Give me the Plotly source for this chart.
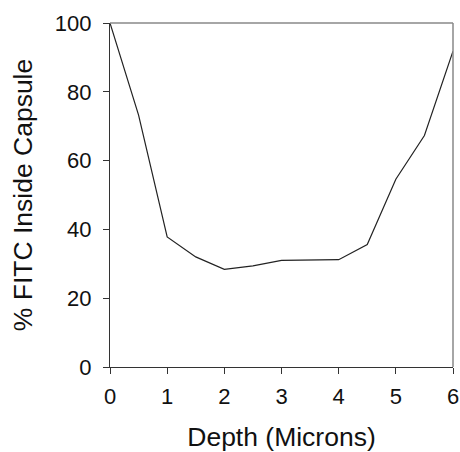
import plotly.graph_objects as go

depth = [0, 0.5, 1, 1.5, 2, 2.5, 3, 3.5, 4, 4.5, 5, 5.5, 6]
fitc_inside = [100, 73.2, 37.8, 32.0, 28.4, 29.4, 31.0, 31.0, 31.2, 35.6, 54.6, 67.3, 91.8]
x_ticks = [0, 1, 2, 3, 4, 5, 6]
y_ticks = [0, 20, 40, 60, 80, 100]

fig = go.Figure()
fig.add_trace(go.Scatter(x=depth, y=fitc_inside, mode="lines", cliponaxis=False,
                         line=dict(color="#222222", width=1.2), showlegend=False))

font = "Liberation Sans, Arial, sans-serif"
fig.update_layout(
    width=460, height=452,
    margin=dict(l=110, r=7, t=23, b=85),
    paper_bgcolor="white", plot_bgcolor="white",
    font=dict(family=font, size=22, color="#111111"),
    xaxis=dict(range=[0, 6], tickvals=x_ticks, ticks="outside", ticklen=6,
               tickcolor="#333333", showline=True, linecolor="#333333", linewidth=1.2,
               showgrid=False, zeroline=False, automargin=False, ticklabelstandoff=3,
               title=dict(text="Depth (Microns)", font=dict(size=26.5), standoff=25)),
    yaxis=dict(range=[0, 100], tickvals=y_ticks, ticks="outside", ticklen=6,
               tickcolor="#333333", showline=True, linecolor="#333333", linewidth=1.2,
               showgrid=False, zeroline=False, ticklabelstandoff=7, automargin=False,
               title=dict(text="% FITC Inside Capsule", font=dict(size=26.5), standoff=14)),
)
fig.add_shape(type="line", xref="paper", yref="paper", x0=0, x1=1, y0=1, y1=1,
              line=dict(color="#888888", width=1.5))
fig.add_shape(type="line", xref="paper", yref="paper", x0=1, x1=1, y0=0, y1=1,
              line=dict(color="#888888", width=1.5))
fig.write_html("out.html", config={"displayModeBar": False},
               post_script="document.body.style.margin='0';document.body.style.overflow='hidden';")
